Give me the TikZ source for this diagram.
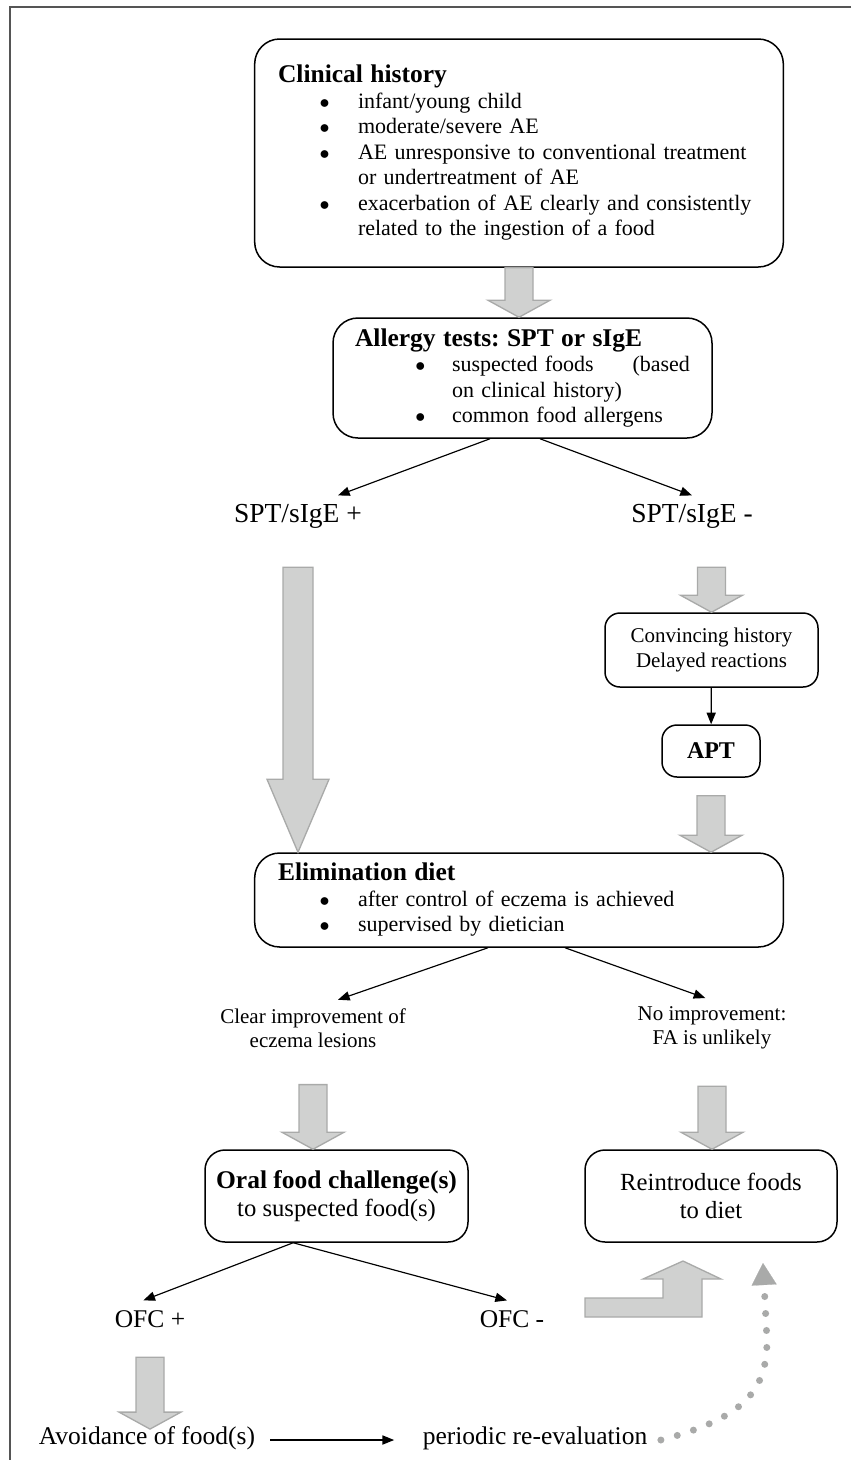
\documentclass[tikz,border=0pt]{standalone}
\usepackage{fontspec}
\setmainfont{Liberation Serif}
\usepackage{enumitem}
\usetikzlibrary{arrows.meta, calc}
\frenchspacing

\newcommand{\txtsize}{\fontsize{13.2}{15.3}\selectfont}
\newcommand{\ttlsize}{\fontsize{15.3}{16.5}\selectfont}
\newcommand{\smlsize}{\fontsize{12.6}{14.5}\selectfont}
\newcommand{\lblsize}{\fontsize{15.3}{17}\selectfont}
\newcommand{\gshaft}{8.4pt}
\newcommand{\ghead}{18.6pt}
\newcommand{\glen}{10.2pt}
\definecolor{arrowfill}{HTML}{D0D1D0}
\definecolor{arrowedge}{HTML}{A9AAA9}
\definecolor{framegray}{HTML}{555555}

\newlist{dotlist}{itemize}{1}
\setlist[dotlist]{label=$\bullet$, nosep, leftmargin=48pt, labelsep=17pt, labelwidth=10pt, align=right}

\tikzset{
  garrow/.style={draw=arrowedge, fill=arrowfill, line width=0.8pt,
    to path={let \p1=(\tikztostart), \p2=(\tikztotarget) in
      (\x1-\gshaft,\y1) -- (\x1-\gshaft,\y2+\glen) -- (\x1-\ghead,\y2+\glen) -- (\x1,\y2)
      -- (\x1+\ghead,\y2+\glen) -- (\x1+\gshaft,\y2+\glen) -- (\x1+\gshaft,\y1) -- cycle}},
  longhead/.code={\renewcommand{\glen}{#1}\renewcommand{\gshaft}{9pt}}
}

\begin{document}
\begin{tikzpicture}[x=0.6pt, y=-0.6pt, >={Triangle[length=7pt,width=5.5pt]},
    box/.style={draw, line width=0.9pt, rounded corners=9pt, align=center, font=\txtsize},
    listbox/.style={box, rounded corners=15pt, align=left, inner xsep=14pt},
    lbl/.style={font=\lblsize, inner sep=2pt, text height=1.6ex, text depth=0.3ex},
    arr/.style={->, line width=0.7pt},
    dots/.style={draw=arrowedge, line width=4.2pt, line cap=round, dash pattern=on 0pt off 10.2pt,
      -{Triangle[length=13.2pt,width=15pt,line width=0.1pt]}}]
  \useasboundingbox (0,0) rectangle (851,1460);
  \draw[framegray, line width=1.2pt] (851,7) -- (10,7) -- (10,1460);

  \node[listbox, text width=289.2pt, minimum height=136.8pt] (hist) at (519,153) {%
    {\ttlsize\bfseries Clinical history}
    \begin{dotlist}
      \item infant/young child
      \item moderate/severe AE
      \item AE unresponsive to conventional treatment\newline or undertreatment of AE
      \item exacerbation of AE clearly and consistently\newline related to the ingestion of a food
    \end{dotlist}};
  \node[listbox, text width=201pt, inner xsep=13.2pt, minimum height=72pt] (allergy) at (522.5,378) {%
    {\ttlsize\bfseries Allergy tests: SPT or sIgE}
    \begin{dotlist}[leftmargin=58.2pt, labelsep=16pt]
      \item suspected foods\hfill(based\newline on clinical history)
      \item common food allergens
    \end{dotlist}};
  \node[lbl, font=\fontsize{16.5}{18}\selectfont] (sptpos) at (298,518) {SPT/sIgE +};
  \node[lbl, font=\fontsize{16.5}{18}\selectfont] (sptneg) at (692,518) {SPT/sIgE -};
  \node[box, font=\smlsize, minimum width=127.8pt, minimum height=44.4pt] (conv) at (711.5,650) {Convincing history\\Delayed reactions};
  \node[box, font=\fontsize{14.4}{16}\selectfont\bfseries, minimum width=58.8pt, minimum height=31.2pt] (apt) at (711,751) {APT};
  \node[listbox, text width=289.2pt, minimum height=56.4pt] (elim) at (519,900) {%
    {\ttlsize\bfseries Elimination diet}
    \begin{dotlist}
      \item after control of eczema is achieved
      \item supervised by dietician
    \end{dotlist}};
  \node[lbl, font=\smlsize, align=center, text height=, text depth=] (better) at (313,1028) {Clear improvement of\\eczema lesions};
  \node[lbl, font=\smlsize, align=center, text height=, text depth=] (nobetter) at (712,1028) {No improvement:\\FA is unlikely};
  \node[box, font=\fontsize{14.8}{16.5}\selectfont, rounded corners=12pt, minimum width=157.8pt, minimum height=55.2pt] (oral) at (336.5,1196) {{\ttlsize\bfseries Oral food challenge(s)}\\to suspected food(s)};
  \node[box, font=\fontsize{14.8}{16.5}\selectfont, rounded corners=12pt, minimum width=151.2pt, minimum height=55.2pt] (reintro) at (711,1196) {Reintroduce foods\\to diet};
  \node[lbl] (ofcpos) at (150,1323) {OFC +};
  \node[lbl] (ofcneg) at (512,1323) {OFC -};
  \node[lbl] (avoid) at (147,1440) {Avoidance of food(s)};
  \node[lbl] (reeval) at (535,1440) {periodic re-evaluation};
  \coordinate (dottip) at (763,1263);

  \path[garrow] (hist.south) to (allergy.north);
  \path[garrow, longhead=43.8pt] ([yshift=-23pt]sptpos.south) to (elim.north);
  \path[garrow] ([yshift=-23pt]conv.north |- sptneg.south) to (conv.north);
  \path[garrow] ([yshift=-10.8pt]apt.south) to (elim.north);
  \path[garrow] ([yshift=-20pt]better.south) to (oral.north);
  \path[garrow] ([yshift=-20pt]nobetter.south) to (reintro.north);
  \path[garrow] ([yshift=-14pt]ofcpos.south) to (avoid.north);
  \filldraw[draw=arrowedge, fill=arrowfill, line width=0.8pt] (585,1317) -- (585,1298) -- (663,1298)
    -- (663,1279) -- (643,1279) -- (683,1261) -- (721,1279) -- (702,1279) -- (702,1317) -- cycle;

  \draw[arr] ([xshift=-19.5pt]allergy.south) -- ([xshift=24pt,yshift=7pt]sptpos.north);
  \draw[arr] ([xshift=10.5pt]allergy.south) -- ([yshift=7pt]sptneg.north);
  \draw[arr] (conv) -- (apt);
  \draw[arr] ([xshift=-18.6pt]elim.south) -- ([xshift=15pt,yshift=3pt]better.north);
  \draw[arr] ([xshift=27.6pt]elim.south) -- ([xshift=-4pt,yshift=3pt]nobetter.north);
  \draw[arr] ([xshift=-26pt]oral.south) -- ([xshift=-4pt,yshift=7pt]ofcpos.north);
  \draw[arr] ([xshift=-26pt]oral.south) -- ([xshift=-3pt,yshift=7pt]ofcneg.north);
  \draw[arr, shorten <=7pt, shorten >=15pt] (avoid) -- (reeval);
  \draw[dots] ([xshift=6pt]reeval.east) .. controls (745,1418) and (767,1390) .. (767,1340) -- (dottip);
\end{tikzpicture}
\end{document}
